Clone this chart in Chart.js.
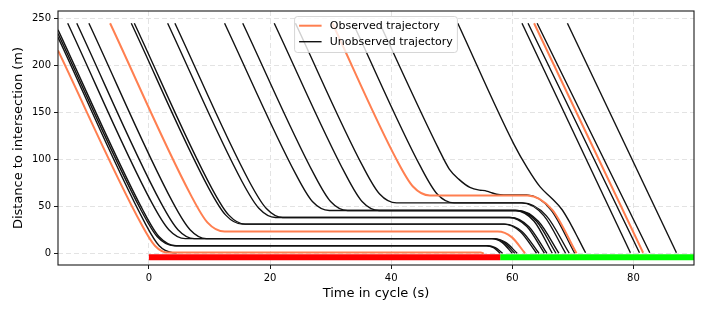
<!DOCTYPE html>
<html>
<head>
<meta charset="utf-8">
<script src="https://cdn.jsdelivr.net/npm/chart.js@4.4.1/dist/chart.umd.min.js"></script>
<style>
  html, body { margin: 0; padding: 0; background: #fff; }
  #chartBox { width: 706px; height: 314px; }
</style>
</head>
<body>
<div id="chartBox"><canvas id="chart" width="706" height="314"></canvas></div>
<script>
// trajectories as [time in cycle (s), distance to intersection (m)]
const observedTracks = [
  [[-15, 216], [-1.2, 31], [1.0, 8.5], [3.2, 1.2], [54.8, 1.2], [55.3, 0.3]],
  [[-6.4, 245], [7.0, 61.5], [9.7, 33], [12.5, 23.5], [57.6, 23.5], [59.9, 17.6], [62.1, 0.5]],
  [[30.3, 245], [40.9, 100], [43.6, 71.5], [46.4, 62], [62.5, 62], [66.6, 46.5], [70.6, 0.5]],
  [[63.6, 245], [81.6, 1]]
];

const unobservedTracks = [
  [[-15, 230], [-0.5, 31], [1.7, 8.5], [3.9, 1.2], [4.6, 1]],
  [[-15, 234], [-1.3, 46.5], [1.4, 18], [4.2, 8.5], [55.7, 8.5], [56.9, 6.4], [58.0, 0.5]],
  [[-15, 238], [-1.0, 46.5], [1.7, 18], [4.5, 8.5], [55.9, 8.5], [57.2, 6.4], [58.4, 0.5]],
  [[-13.4, 245], [0.5, 54], [3.3, 25.5], [6.0, 16], [56.6, 16], [58.3, 12], [60.0, 0.5]],
  [[-11.9, 245], [2.0, 54], [4.8, 25.5], [7.5, 16], [56.8, 16], [58.6, 12], [60.4, 0.5]],
  [[-9.9, 245], [4.0, 54], [6.8, 25.5], [9.5, 16], [57.0, 16], [58.9, 12], [60.8, 0.5]],
  [[-2.9, 245], [9.9, 69.5], [12.7, 41], [15.4, 31.5], [58.6, 31.5], [61.3, 23.6], [64.0, 0.5]],
  [[-2.4, 245], [10.4, 69.5], [13.2, 41], [15.9, 31.5], [58.8, 31.5], [61.6, 23.6], [64.4, 0.5]],
  [[3.1, 245], [15.4, 76.5], [18.2, 48], [20.9, 38.5], [59.5, 38.5], [62.4, 28.9], [65.3, 0.5]],
  [[4.3, 245], [16.6, 76.5], [19.4, 48], [22.1, 38.5], [59.7, 38.5], [62.7, 28.9], [65.7, 0.5]],
  [[12.5, 245], [24.3, 84], [27.0, 55.5], [29.8, 46], [60.5, 46], [63.6, 34.5], [66.6, 0.5]],
  [[15.5, 245], [27.3, 84], [30.0, 55.5], [32.8, 46], [60.7, 46], [64.0, 34.5], [67.2, 0.5]],
  [[20.7, 245], [32.5, 84], [35.2, 55.5], [38.0, 46], [60.9, 46], [64.3, 34.5], [67.7, 0.5]],
  [[24.2, 245], [35.4, 92], [38.1, 63.5], [40.9, 54], [61.5, 54], [65.2, 40.5], [68.8, 0.5]],
  [[33.7, 245], [44.9, 92], [47.6, 63.5], [50.4, 54], [61.7, 54], [65.6, 40.5], [69.4, 0.5]],
  [[38.1, 245], [47.8, 112], [49.6, 90], [51.2, 79], [53.0, 70.5], [54.6, 67.6], [55.5, 67.1],
   [56.4, 65.2], [57.4, 63.2], [58.6, 62.5], [62.4, 62.5], [66.4, 46.5], [70.3, 0.5]],
  [[51.0, 245], [60.3, 116], [62.5, 91], [64.6, 71], [66.5, 59], [68.2, 47], [69.6, 32], [70.9, 16], [72.1, 1]],
  [[61.6, 245], [79.5, 1]],
  [[62.6, 245], [81.0, 1]],
  [[64.1, 245], [82.7, 1]],
  [[69.1, 245], [87.1, 1]]
];

// signal phases along the stop line
const redPhase = [0, 58];
const greenPhase = [58, 90];
const phaseLevel = -3.7;

const xTicks = [0, 20, 40, 60, 80];
const yTicks = [0, 50, 100, 150, 200, 250];
const legendLabels = ['Observed trajectory', 'Unobserved trajectory'];

const FONT = 'DejaVu Sans';
const ORANGE = '#ff7f50';
const BLACK = '#121212';

const toPoints = tr => tr.map(p => ({ x: p[0], y: p[1] }));
const lineBase = {
  pointRadius: 0,
  fill: false,
  cubicInterpolationMode: 'monotone',
  borderCapStyle: 'butt'
};

const datasets = [];
observedTracks.forEach(tr => {
  datasets.push({ ...lineBase, data: toPoints(tr), borderColor: ORANGE, borderWidth: 2, order: 0 });
});
unobservedTracks.forEach(tr => {
  datasets.push({ ...lineBase, data: toPoints(tr), borderColor: BLACK, borderWidth: 1.4, order: 1 });
});
datasets.push({
  ...lineBase,
  data: [{ x: redPhase[0], y: phaseLevel }, { x: redPhase[1], y: phaseLevel }],
  borderColor: '#ff0000', borderWidth: 6, order: 2
});
datasets.push({
  ...lineBase,
  data: [{ x: greenPhase[0], y: phaseLevel }, { x: greenPhase[1], y: phaseLevel }],
  borderColor: '#00ff00', borderWidth: 6, order: 2
});

// frame round the axes + legend box inside the plot, upper centre
const frameAndLegend = {
  id: 'frameAndLegend',
  afterDraw(chart) {
    const ctx = chart.ctx;
    const a = chart.chartArea;
    ctx.save();
    ctx.strokeStyle = '#1a1a1a';
    ctx.lineWidth = 1.1;
    ctx.strokeRect(a.left, a.top, a.right - a.left, a.bottom - a.top);

    ctx.font = '11px "' + FONT + '"';
    const textW = Math.max(...legendLabels.map(t => ctx.measureText(t).width));
    const bw = 35.2 + textW + 4.6;
    const bh = 36;
    const bx = (a.left + a.right) / 2 - bw / 2;
    const by = a.top + 5.5;
    ctx.beginPath();
    if (ctx.roundRect) ctx.roundRect(bx, by, bw, bh, 3);
    else ctx.rect(bx, by, bw, bh);
    ctx.fillStyle = 'rgba(255,255,255,0.8)';
    ctx.fill();
    ctx.strokeStyle = 'rgba(204,204,204,0.8)';
    ctx.lineWidth = 1;
    ctx.stroke();

    const colors = [ORANGE, BLACK];
    const widths = [2, 1.4];
    legendLabels.forEach((label, i) => {
      const cy = by + 9.2 + i * 16;
      ctx.beginPath();
      ctx.moveTo(bx + 4.5, cy);
      ctx.lineTo(bx + 27, cy);
      ctx.strokeStyle = colors[i];
      ctx.lineWidth = widths[i];
      ctx.stroke();
      ctx.fillStyle = '#000';
      ctx.textBaseline = 'middle';
      ctx.textAlign = 'left';
      ctx.fillText(label, bx + 35.2, cy);
    });
    ctx.restore();
  }
};

const gridStyle = {
  color: '#e3e3e3',
  lineWidth: 1,
  tickColor: '#1a1a1a',
  tickLength: 4,
  tickWidth: 1,
  tickBorderDash: []
};

new Chart(document.getElementById('chart').getContext('2d'), {
  type: 'line',
  data: { datasets: datasets },
  options: {
    responsive: false,
    animation: false,
    devicePixelRatio: 1,
    layout: { padding: { top: 11, right: 12, bottom: 0, left: 0 } },
    plugins: { legend: { display: false }, tooltip: { enabled: false } },
    scales: {
      x: {
        type: 'linear',
        min: -15,
        max: 90,
        afterBuildTicks: s => { s.ticks = xTicks.map(v => ({ value: v })); },
        afterFit: s => { s.height = 49; },
        grid: gridStyle,
        border: { display: false, dash: [5, 3] },
        ticks: { color: '#000', font: { family: FONT, size: 10 }, padding: 3, maxRotation: 0, autoSkip: false },
        title: {
          display: true, text: 'Time in cycle (s)', color: '#000',
          font: { family: FONT, size: 13 }, padding: { top: 0, bottom: 13 }
        }
      },
      y: {
        type: 'linear',
        min: -12,
        max: 258,
        afterBuildTicks: s => { s.ticks = yTicks.map(v => ({ value: v })); },
        afterFit: s => { s.width = 58; },
        grid: gridStyle,
        border: { display: false, dash: [5, 3] },
        ticks: { color: '#000', font: { family: FONT, size: 10 }, padding: 3, autoSkip: false },
        title: {
          display: true, text: 'Distance to intersection (m)', color: '#000',
          font: { family: FONT, size: 13 }, padding: { top: 11, bottom: 0 }
        }
      }
    }
  },
  plugins: [frameAndLegend]
});
</script>
</body>
</html>
